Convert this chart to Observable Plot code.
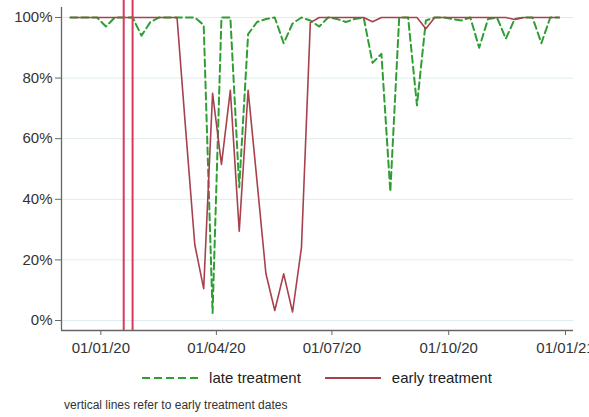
<!DOCTYPE html>
<html>
<head>
<meta charset="utf-8">
<script src="https://cdn.jsdelivr.net/npm/d3@7"></script>
<script src="https://cdn.jsdelivr.net/npm/@observablehq/plot@0.6"></script>
<style>
  body { margin: 0; background: #fff; font-family: "Liberation Sans", Arial, sans-serif; }
  #wrap { position: relative; width: 589px; height: 417px; overflow: hidden; }
  #chart { position: absolute; left: 0; top: 0; }
  #legend { position: absolute; left: 61px; width: 512px; top: 369px; height: 18px;
            display: flex; justify-content: center; align-items: center; gap: 24px;
            font-size: 15px; color: #222; line-height: 18px; }
  .item { display: flex; align-items: center; }
  .item span { margin-left: 11px; }
  #caption { position: absolute; left: 64px; top: 397px; font-size: 12px; color: #333; line-height: 16px; }
</style>
</head>
<body>
<div id="wrap">
  <div id="chart"></div>
  <div id="legend"></div>
  <div id="caption">vertical lines refer to early treatment dates</div>
</div>
<script>
const dates = [
  "2019-12-08","2019-12-15","2019-12-22","2019-12-29",
  "2020-01-05","2020-01-12","2020-01-19","2020-01-26",
  "2020-02-02","2020-02-09","2020-02-16","2020-02-23",
  "2020-03-01","2020-03-08","2020-03-15","2020-03-22","2020-03-29",
  "2020-04-05","2020-04-12","2020-04-19","2020-04-26",
  "2020-05-03","2020-05-10","2020-05-17","2020-05-24","2020-05-31",
  "2020-06-07","2020-06-14","2020-06-21","2020-06-28",
  "2020-07-05","2020-07-12","2020-07-19","2020-07-26",
  "2020-08-02","2020-08-09","2020-08-16","2020-08-23","2020-08-30",
  "2020-09-06","2020-09-13","2020-09-20","2020-09-27",
  "2020-10-04","2020-10-11","2020-10-18","2020-10-25",
  "2020-11-01","2020-11-08","2020-11-15","2020-11-22","2020-11-29",
  "2020-12-06","2020-12-13","2020-12-20","2020-12-27"
];
const lateTreatment = [
  100, 100, 100, 100,
  97, 100, 100, 100,
  94, 98.5, 100, 100,
  100, 100, 100, 97.5, 2.5,
  100, 100, 44, 94.5,
  98.5, 99.5, 100, 91.5, 98,
  100, 99, 97, 100,
  99.5, 98.5, 99.5, 100,
  85, 88, 42.5, 100, 100,
  71, 99, 100, 100,
  99.5, 99, 100, 90,
  99.5, 100, 93, 99.5, 100,
  100, 91.5, 100, 100
];
const earlyTreatment = [
  100, 100, 100, 100,
  100, 100, 100, 100,
  100, 100, 100, 100,
  100, 62, 25, 10.5, 75,
  51.5, 76, 29.5, 76,
  46, 15.5, 3.3, 15.4, 2.8,
  24, 98.3, 100, 100,
  100, 100, 100, 100,
  98.6, 100, 100, 100, 100,
  100, 96.3, 100, 100,
  100, 100, 100, 100,
  100, 100, 100, 99.3, 100,
  100, 100, 100, 100
];
const treatmentDates = ["2020-01-19", "2020-01-26"];
const xTickLabels = ["2020-01-01", "2020-04-01", "2020-07-01", "2020-10-01", "2021-01-01"];
const yTicks = [0, 20, 40, 60, 80, 100];
const seriesNames = ["late treatment", "early treatment"];
const seriesColors = ["#2f9e33", "#a7414d"];
const seriesDash = ["7,4", null];
const treatmentColor = "#d93a5c";

const parse = d3.utcParse("%Y-%m-%d");
const late = dates.map((d, i) => ({date: parse(d), value: lateTreatment[i]}));
const early = dates.map((d, i) => ({date: parse(d), value: earlyTreatment[i]}));
const xDomain = [new Date(Date.UTC(2019, 11, 1)), new Date(Date.UTC(2021, 0, 7, 7))];
const yDomain = [-3.3, 105.6];
const yAxisTop = 103.3;

const plot = Plot.plot({
  width: 589,
  height: 360,
  marginLeft: 61,
  marginRight: 16,
  marginTop: 0,
  marginBottom: 30,
  style: {fontFamily: '"Liberation Sans", Arial, sans-serif', fontSize: "15px", color: "#333", background: "#fff"},
  x: {type: "utc", domain: xDomain},
  y: {domain: yDomain},
  marks: [
    Plot.gridY(yTicks, {stroke: "#e0ecef", strokeOpacity: 1, strokeWidth: 1}),
    Plot.axisY(yTicks, {tickSize: 6, tickPadding: 3, tickFormat: d => d + "%", label: null,
                        stroke: "#666", fill: "#333", fontSize: 15}),
    Plot.axisX(xTickLabels.map(parse), {tickSize: 5, tickPadding: 7, tickFormat: d3.utcFormat("%d/%m/%y"),
                        label: null, stroke: "#666", fill: "#333", fontSize: 15}),
    Plot.ruleY([yDomain[0]], {stroke: "#666", strokeWidth: 1.3}),
    Plot.ruleX([xDomain[0]], {y1: yDomain[0], y2: yAxisTop, stroke: "#666", strokeWidth: 1.3}),
    Plot.lineY(late, {x: "date", y: "value", stroke: seriesColors[0], strokeWidth: 2, strokeDasharray: seriesDash[0]}),
    Plot.lineY(early, {x: "date", y: "value", stroke: seriesColors[1], strokeWidth: 1.6}),
    Plot.ruleX(treatmentDates.map(parse), {stroke: treatmentColor, strokeWidth: 2})
  ]
});
document.getElementById("chart").appendChild(plot);

const legend = document.getElementById("legend");
seriesNames.forEach((name, i) => {
  const item = document.createElement("div");
  item.className = "item";
  const dash = seriesDash[i] ? ` stroke-dasharray="8,4"` : "";
  item.innerHTML = `<svg width="56" height="10"><line x1="0" x2="56" y1="5" y2="5" stroke="${seriesColors[i]}" stroke-width="2"${dash}/></svg><span>${name}</span>`;
  legend.appendChild(item);
});
</script>
</body>
</html>
